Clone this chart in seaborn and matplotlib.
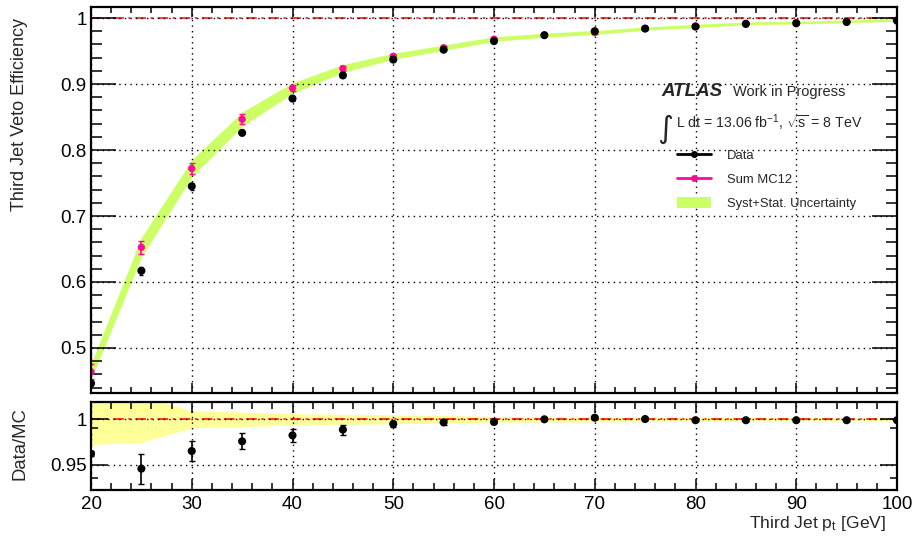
import numpy as np
import pandas as pd
import seaborn as sns
import matplotlib.pyplot as plt
from matplotlib.lines import Line2D
from matplotlib.patches import Patch
from matplotlib.ticker import MultipleLocator

# datos
pt = [20, 25, 30, 35, 40, 45, 50, 55, 60, 65, 70, 75, 80, 85, 90, 95, 100]
eff_data = [0.4465, 0.617, 0.745, 0.826, 0.878, 0.913, 0.937, 0.952, 0.965, 0.974, 0.980, 0.984, 0.987, 0.991, 0.992, 0.994, 0.996]
err_data = [0.004, 0.006, 0.0055, 0.004, 0.003, 0.0025, 0.002, 0.002, 0.0015, 0.0015, 0.0012, 0.001, 0.001, 0.001, 0.001, 0.001, 0.001]
eff_mc = [0.464, 0.6525, 0.772, 0.8466, 0.8938, 0.9235, 0.942, 0.955, 0.968, 0.974, 0.978, 0.984, 0.988, 0.992, 0.993, 0.995, 0.997]
err_mc = [0.0116, 0.010, 0.0076, 0.0073, 0.005, 0.0045, 0.003, 0.003, 0.002, 0.002, 0.002, 0.0015, 0.0015, 0.001, 0.001, 0.001, 0.001]
unc_mc = [0.012, 0.015, 0.013, 0.011, 0.008, 0.006, 0.0045, 0.004, 0.0035, 0.003, 0.003, 0.0025, 0.0025, 0.002, 0.002, 0.002, 0.002]

ratio = [0.962, 0.9456, 0.965, 0.9757, 0.9823, 0.9886, 0.9948, 0.9967, 0.997, 1.0, 1.0018, 1.0003, 0.999, 0.999, 0.999, 0.999, 0.999]
err_ratio = [0.003, 0.0165, 0.011, 0.0088, 0.0068, 0.0055, 0.0035, 0.0025, 0.0015, 0.001, 0.001, 0.001, 0.001, 0.001, 0.001, 0.001, 0.001]
unc_ratio = [0.028, 0.0254, 0.0095, 0.008, 0.0062, 0.0055, 0.005, 0.0042, 0.0032, 0.003, 0.0028, 0.0025, 0.0022, 0.002, 0.0018, 0.0015, 0.0012]

df = pd.DataFrame({'pt': pt, 'data': eff_data, 'mc': eff_mc, 'ratio': ratio})

sns.set_theme(style='ticks')
plt.rcParams['font.family'] = ['Liberation Sans', 'DejaVu Sans']
plt.rcParams['mathtext.fontset'] = 'custom'
plt.rcParams['mathtext.rm'] = 'Liberation Sans'
plt.rcParams['mathtext.it'] = 'Liberation Sans:italic'
plt.rcParams['mathtext.default'] = 'regular'
plt.rcParams['xtick.direction'] = 'in'
plt.rcParams['ytick.direction'] = 'in'
plt.rcParams['xtick.color'] = 'black'
plt.rcParams['ytick.color'] = 'black'

verde = '#ccff66'
rosa = '#ff0a9c'
amarillo = '#ffff99'

fig = plt.figure(figsize=(9.14, 5.38), dpi=100)
ax1 = fig.add_axes([91/914, 1-393/538, 806/914, 386/538])
ax2 = fig.add_axes([91/914, 1-490/538, 806/914, 88/538])

# Panel superior
ax1.fill_between(pt, np.array(eff_mc) - np.array(unc_mc), np.array(eff_mc) + np.array(unc_mc),
                 color=verde, lw=0, zorder=1)
ax1.axhline(1, color='red', lw=1.1, ls=(0, (7, 3, 1.5, 3)), zorder=2)
ax1.errorbar(pt, eff_mc, yerr=err_mc, fmt='none', ecolor=rosa, elinewidth=1.2, capsize=2, zorder=3)
sns.scatterplot(data=df, x='pt', y='mc', ax=ax1, color=rosa, s=28, edgecolor='none', zorder=4)
ax1.errorbar(pt, eff_data, yerr=err_data, fmt='none', ecolor='black', elinewidth=1.2, capsize=1.5, zorder=5)
sns.scatterplot(data=df, x='pt', y='data', ax=ax1, color='black', s=34, edgecolor='none', zorder=6)

ax1.set_xlim(20, 100)
ax1.set_ylim(0.4318, 1.0167)
ax1.xaxis.set_major_locator(MultipleLocator(10))
ax1.xaxis.set_minor_locator(MultipleLocator(2))
ax1.yaxis.set_minor_locator(MultipleLocator(0.02))
ax1.set_yticks([0.5, 0.6, 0.7, 0.8, 0.9, 1.0])
ax1.set_yticklabels(['0.5', '0.6', '0.7', '0.8', '0.9', '1'])
ax1.tick_params(axis='x', which='major', length=7, width=1.1, top=True, bottom=True, labelbottom=False)
ax1.tick_params(axis='x', which='minor', length=4, width=1.1, top=True, bottom=True)
ax1.tick_params(axis='y', which='major', length=18, width=1.1, left=True, right=True, labelsize=13.5, pad=3)
ax1.tick_params(axis='y', which='minor', length=8, width=1.1, left=True, right=True)
ax1.grid(True, which='major', color='black', ls=(0, (1, 3)), lw=1)
ax1.set_xlabel('')
ax1.set_ylabel('Third Jet Veto Efficiency', fontsize=13, loc='top')
ax1.yaxis.set_label_coords(-0.078, 0.9715)

# Leyenda y textos
fig.text(661/914, 1-96/538, 'ATLAS', fontsize=13.5, fontweight='bold', fontstyle='italic')
fig.text(733/914, 1-96/538, 'Work in Progress', fontsize=10.5)
fig.text(657/914, 1-138/538, '\u222b', fontsize=22, family=['DejaVu Sans'])
fig.text(676/914, 1-128/538, 'L dt = 13.06 fb$^{-1}$, $\\sqrt{s}$ = 8 TeV', fontsize=10.2)

handles = [
    Line2D([0], [0], color='black', lw=2, marker='o', markersize=4),
    Line2D([0], [0], color=rosa, lw=2, marker='o', markersize=4),
    Patch(facecolor=verde, edgecolor='none'),
]
ax1.legend(handles, ['Data', 'Sum MC12', 'Syst+Stat. Uncertainty'], loc='upper left',
           bbox_to_anchor=(677/914, 1-149/538), bbox_transform=fig.transFigure,
           frameon=False, fontsize=9.4, handlelength=2.6, handletextpad=1.2,
           labelspacing=0.8, handleheight=1.0, borderpad=0, borderaxespad=0)

# Panel inferior
ax2.fill_between(pt, 1 - np.array(unc_ratio), 1 + np.array(unc_ratio), color=amarillo, lw=0, zorder=1)
ax2.axhline(1, color='red', lw=1.1, ls=(0, (7, 3, 1.5, 3)), zorder=2)
ax2.errorbar(pt, ratio, yerr=err_ratio, fmt='none', ecolor='black', elinewidth=1.2, capsize=2, zorder=3)
sns.scatterplot(data=df, x='pt', y='ratio', ax=ax2, color='black', s=34, edgecolor='none', zorder=4)

ax2.set_xlim(20, 100)
ax2.set_ylim(0.922, 1.0191)
ax2.xaxis.set_major_locator(MultipleLocator(10))
ax2.xaxis.set_minor_locator(MultipleLocator(2))
ax2.set_yticks([0.95, 1.0])
ax2.set_yticklabels(['0.95', '1'])
ax2.set_yticks([0.935, 0.99], minor=True)
ax2.tick_params(axis='x', which='major', length=8, width=1.1, top=True, bottom=True, labelsize=13.5, pad=4)
ax2.tick_params(axis='x', which='minor', length=5, width=1.1, top=True, bottom=True)
ax2.tick_params(axis='y', which='major', length=12, width=1.1, left=True, right=True, labelsize=13.5, pad=3)
ax2.tick_params(axis='y', which='minor', length=5, width=1.1, left=True, right=True)
ax2.grid(True, which='major', color='black', ls=(0, (1, 3)), lw=1)
ax2.set_ylabel('Data/MC', fontsize=13.3, loc='top')
ax2.yaxis.set_label_coords(-0.078, 0.947)
ax2.set_xlabel('')
fig.text(886/914, 1-514/538, 'Third Jet p$_{t}$ [GeV]', fontsize=12.6, ha='right', va='top')

for ax in (ax1, ax2):
    ax.set_axisbelow(False)
    for s in ax.spines.values():
        s.set_visible(True)
        s.set_linewidth(1.6)
        s.set_color('black')
        s.set_zorder(10)

fig.savefig('out.png', dpi=100)
